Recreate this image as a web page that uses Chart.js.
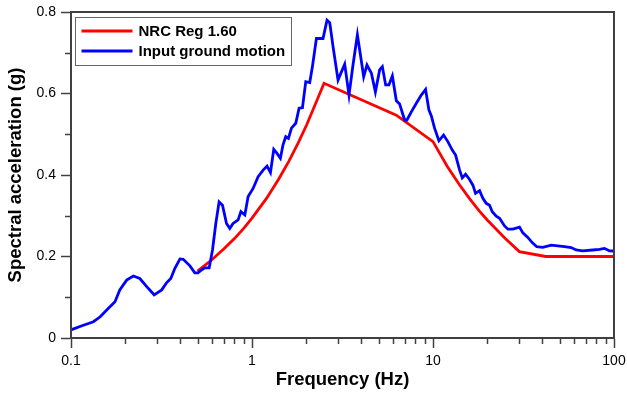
<!DOCTYPE html>
<html>
<head>
<meta charset="utf-8">
<script src="https://cdn.jsdelivr.net/npm/chart.js@4.4.1/dist/chart.umd.min.js"></script>
<style>
  html, body { margin: 0; padding: 0; background: #fff; }
  #wrap { width: 627px; height: 396px; }
</style>
</head>
<body>
<div id="wrap"><canvas id="specChart" width="627" height="396"></canvas></div>
<script>
// NRC Reg Guide 1.60 design spectrum
const nrcFreq = [0.5, 0.6, 0.7, 0.8, 0.9, 1.0, 1.2, 1.4, 1.6, 1.8, 2.0, 2.25, 2.5,
  6.27, 10, 12, 14, 16, 18, 20, 25, 30, 42, 100];
const nrcAcc = [0.164, 0.192, 0.219, 0.244, 0.269, 0.294, 0.342, 0.389, 0.434, 0.479, 0.522, 0.576, 0.625,
  0.547, 0.482, 0.421, 0.376, 0.341, 0.312, 0.289, 0.245, 0.212, 0.2, 0.2];

// input ground motion spectrum
const inputFreq = [0.1, 0.115, 0.133, 0.145, 0.161, 0.175, 0.186, 0.203, 0.221, 0.24,
  0.262, 0.288, 0.317, 0.338, 0.356, 0.375, 0.4, 0.417, 0.454, 0.483,
  0.503, 0.526, 0.549, 0.58, 0.605, 0.631, 0.658, 0.687, 0.723, 0.754,
  0.786, 0.838, 0.868, 0.913, 0.952, 1.014, 1.081, 1.152, 1.211, 1.265,
  1.319, 1.375, 1.435, 1.484, 1.536, 1.59, 1.652, 1.745, 1.82, 1.9,
  1.982, 2.084, 2.157, 2.269, 2.468, 2.597, 2.688, 2.804, 2.988, 3.119,
  3.252, 3.435, 3.614, 3.822, 3.987, 4.14, 4.317, 4.567, 4.805, 5.073,
  5.25, 5.475, 5.71, 5.963, 6.273, 6.541, 6.97, 7.178, 7.59, 8.09,
  8.616, 9.1, 9.49, 9.79, 10.2, 10.78, 11.44, 12.08, 12.78, 13.33,
  14.03, 14.51, 15.14, 15.92, 16.61, 17.18, 18.08, 18.86, 19.68, 20.53,
  21.25, 22.36, 23.32, 24.85, 25.92, 27.61, 30.06, 31.36, 33.41, 35.32,
  37.44, 40.42, 44.97, 48.91, 53.25, 57.98, 61.78, 67.2, 76.3, 83.1,
  88.5, 94.3, 100];
const inputAcc = [0.02, 0.03, 0.04, 0.052, 0.073, 0.089, 0.118, 0.142, 0.152, 0.146,
  0.126, 0.106, 0.118, 0.136, 0.146, 0.171, 0.194, 0.193, 0.177, 0.16,
  0.16, 0.167, 0.172, 0.172, 0.216, 0.281, 0.334, 0.326, 0.281, 0.269,
  0.281, 0.29, 0.31, 0.302, 0.347, 0.367, 0.396, 0.412, 0.422, 0.406,
  0.463, 0.453, 0.441, 0.474, 0.494, 0.49, 0.515, 0.527, 0.564, 0.565,
  0.629, 0.627, 0.666, 0.735, 0.735, 0.78, 0.774, 0.715, 0.633, 0.653,
  0.672, 0.596, 0.67, 0.744, 0.69, 0.641, 0.67, 0.65, 0.604, 0.658,
  0.666, 0.621, 0.621, 0.643, 0.582, 0.574, 0.535, 0.535, 0.555, 0.576,
  0.596, 0.61, 0.56, 0.545, 0.515, 0.484, 0.498, 0.482, 0.461, 0.449,
  0.412, 0.393, 0.402, 0.389, 0.375, 0.355, 0.3615, 0.343, 0.3305, 0.326,
  0.31, 0.299, 0.294, 0.275, 0.267, 0.267, 0.272, 0.258, 0.247, 0.234,
  0.224, 0.2225, 0.228, 0.226, 0.224, 0.222, 0.216, 0.214, 0.216, 0.2176,
  0.22, 0.214, 0.2135];

// axis ticks
const xMajorTicks = [0.1, 1, 10, 100];
const xMinorTicks = [0.2, 0.3, 0.4, 0.5, 0.6, 0.7, 0.8, 0.9, 2, 3, 4, 5, 6, 7, 8, 9,
  20, 30, 40, 50, 60, 70, 80, 90];
const yMinorTicks = [0.1, 0.3, 0.5, 0.7];

const AXIS_COLOR = "#404040";
const FONT = "Arial, 'Liberation Sans', sans-serif";

Chart.defaults.font.family = FONT;
Chart.defaults.color = "#000";

function toPoints(xs, ys) {
  return xs.map((x, i) => ({ x: x, y: ys[i] }));
}

// minor ticks + box around the plot area
const frameAndMinorTicks = {
  id: "frameAndMinorTicks",
  afterDraw(chart) {
    const { ctx, chartArea } = chart;
    const xScale = chart.scales.x;
    const yScale = chart.scales.y;

    ctx.save();
    ctx.strokeStyle = AXIS_COLOR;
    ctx.lineWidth = 1.5;
    ctx.beginPath();
    for (let v of xMinorTicks) {
      const px = Math.round(xScale.getPixelForValue(v)) + 0.5;
      ctx.moveTo(px, chartArea.bottom);
      ctx.lineTo(px, chartArea.bottom + 6);
    }
    for (let v of yMinorTicks) {
      const py = Math.round(yScale.getPixelForValue(v)) + 0.5;
      ctx.moveTo(chartArea.left, py);
      ctx.lineTo(chartArea.left - 6, py);
    }
    ctx.stroke();

    ctx.lineWidth = 2;
    ctx.strokeRect(chartArea.left, chartArea.top, chartArea.right - chartArea.left,
      chartArea.bottom - chartArea.top);
    ctx.restore();
  },
};

// legend box in the upper left corner
const boxLegend = {
  id: "boxLegend",
  afterDraw(chart) {
    const { ctx, chartArea } = chart;
    const left = chartArea.left + 4.5;
    const top = chartArea.top + 5.5;

    ctx.save();
    ctx.fillStyle = "#fff";
    ctx.fillRect(left, top, 216, 48);
    ctx.strokeStyle = "#666";
    ctx.lineWidth = 1;
    ctx.strokeRect(left, top, 216, 48);

    ctx.font = "bold 15px " + FONT;
    ctx.textBaseline = "middle";
    ctx.fillStyle = "#000";
    chart.data.datasets.forEach((ds, i) => {
      const y = top + 13.5 + i * 20;
      ctx.strokeStyle = ds.borderColor;
      ctx.lineWidth = 2.8;
      ctx.beginPath();
      ctx.moveTo(left + 6, y);
      ctx.lineTo(left + 57, y);
      ctx.stroke();
      ctx.fillText(ds.label, left + 63, y + 1);
    });
    ctx.restore();
  },
};

const ctx = document.getElementById("specChart").getContext("2d");

const specChart = new Chart(ctx, {
  type: "line",
  data: {
    datasets: [
      {
        label: "NRC Reg 1.60",
        data: toPoints(nrcFreq, nrcAcc),
        borderColor: "#ff0000",
        borderWidth: 2.8,
        pointRadius: 0,
        tension: 0,
        order: 2,
      },
      {
        label: "Input ground motion",
        data: toPoints(inputFreq, inputAcc),
        borderColor: "#0000ff",
        borderWidth: 2.8,
        pointRadius: 0,
        tension: 0,
        order: 1,
      },
    ],
  },
  options: {
    responsive: false,
    animation: false,
    layout: {
      padding: { top: 12, right: 13, left: 0, bottom: 0 },
    },
    plugins: {
      legend: { display: false },
      tooltip: { enabled: false },
    },
    scales: {
      x: {
        type: "logarithmic",
        min: 0.1,
        max: 100,
        afterBuildTicks: (scale) => {
          scale.ticks = xMajorTicks.map((v) => ({ value: v, major: true }));
        },
        afterFit: (scale) => {
          scale.height = 58;
          // labels fit inside the layout padding, no extra room needed
          scale.paddingLeft = 0;
          scale.paddingRight = 0;
        },
        ticks: {
          autoSkip: false,
          maxRotation: 0,
          padding: 5,
          font: { size: 14 },
          callback: (value) => String(value),
        },
        grid: {
          drawOnChartArea: false,
          tickLength: 10,
          tickColor: AXIS_COLOR,
          tickWidth: 1.5,
        },
        border: { color: AXIS_COLOR, width: 2 },
        title: {
          display: true,
          text: "Frequency (Hz)",
          font: { size: 18.5, weight: "bold" },
          padding: { top: 0, bottom: 5 },
        },
      },
      y: {
        min: 0,
        max: 0.8,
        afterFit: (scale) => {
          scale.width = 71;
          scale.paddingTop = 0;
          scale.paddingBottom = 0;
        },
        ticks: {
          stepSize: 0.2,
          padding: 5,
          font: { size: 14 },
          callback: (value) => (value === 0 ? "0" : value.toFixed(1)),
        },
        grid: {
          drawOnChartArea: false,
          tickLength: 10,
          tickColor: AXIS_COLOR,
          tickWidth: 1.5,
        },
        border: { color: AXIS_COLOR, width: 2 },
        title: {
          display: true,
          text: "Spectral acceleration (g)",
          font: { size: 18.5, weight: "bold" },
          padding: { top: 5, bottom: 0 },
        },
      },
    },
  },
  plugins: [frameAndMinorTicks, boxLegend],
});
</script>
</body>
</html>
